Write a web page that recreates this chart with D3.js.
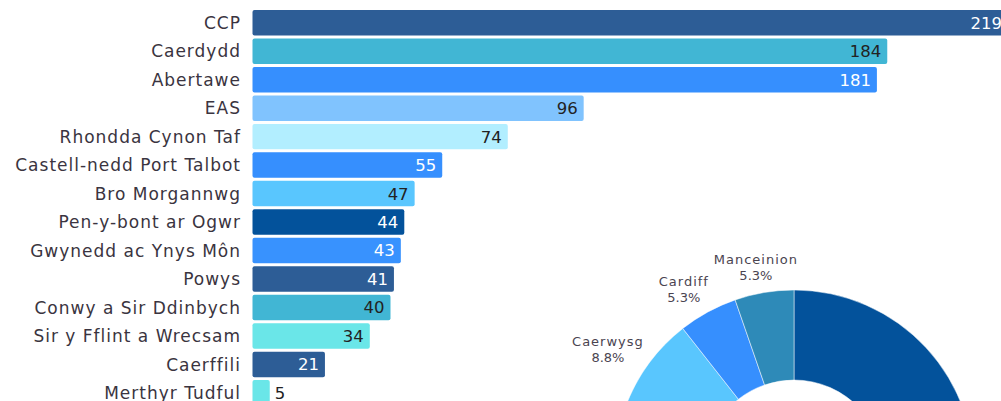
<!DOCTYPE html>
<html>
<head>
<meta charset="utf-8">
<script src="https://cdn.jsdelivr.net/npm/d3@7"></script>
<style>
  body { margin: 0; background: #fff; overflow: hidden; }
  svg { display: block; }
</style>
</head>
<body>
<div id="chart"></div>
<script>
// bar chart data
const categories = [
    'CCP', 'Caerdydd', 'Abertawe', 'EAS', 'Rhondda Cynon Taf',
    'Castell-nedd Port Talbot', 'Bro Morgannwg', 'Pen-y-bont ar Ogwr',
    'Gwynedd ac Ynys Môn', 'Powys', 'Conwy a Sir Ddinbych',
    'Sir y Fflint a Wrecsam', 'Caerffili', 'Merthyr Tudful'
];
const values = [219, 184, 181, 96, 74, 55, 47, 44, 43, 41, 40, 34, 21, 5];
const barColors = [
    '#2d5d96', '#41b6d4', '#368ffe', '#80c3fe', '#b2eeff',
    '#368ffe', '#59c6fe', '#03529b', '#3892fe', '#2d5d96',
    '#41b6d4', '#6ae6e8', '#2d5d96', '#6ae6e8'
];
// which bars have white value labels
const lightText = [true, false, true, false, false, true, false, true, true, true, false, false, true, false];

// donut data (only the top-left part is visible in the crop)
const donutNames = ['Y Drindod Dewi Sant', 'Bangor', 'Arall', 'Caerwysg', 'Cardiff', 'Manceinion'];
const donutPct = [52.6, 15.8, 12.2, 8.8, 5.3, 5.3];
const donutColors = ['#03529b', '#41b6d4', '#80c3fe', '#59c6fe', '#368ffe', '#2e8ab8'];

const width = 1001, height = 401;
const FONT = "'DejaVu Sans', sans-serif";

const svg = d3.select('#chart').append('svg')
    .attr('width', width)
    .attr('height', height);

// Scales
const x = d3.scaleLinear()
    .domain([0, 219])
    .range([252.5, 1008]);

const y = d3.scaleBand()
    .domain(categories)
    .range([10, 405.6])
    .paddingInner(0.105)
    .paddingOuter(0);

const rows = categories.map((c, i) => ({
    name: c, value: values[i], color: barColors[i], white: lightText[i]
}));

// Bars
svg.selectAll('.bar')
    .data(rows)
    .enter()
    .append('rect')
    .attr('class', 'bar')
    .attr('x', x(0))
    .attr('y', d => y(d.name))
    .attr('width', d => x(d.value) - x(0))
    .attr('height', y.bandwidth())
    .attr('rx', 2)
    .attr('fill', d => d.color);

// Category labels
svg.selectAll('.cat')
    .data(rows)
    .enter()
    .append('text')
    .attr('class', 'cat')
    .attr('x', 241)
    .attr('y', d => y(d.name) + y.bandwidth() / 2)
    .attr('dy', '0.36em')
    .attr('text-anchor', 'end')
    .style('font-family', FONT)
    .style('font-size', '17px')
    .style('letter-spacing', '1px')
    .style('fill', '#3a3440')
    .text(d => d.name);

// Value labels (inside the bar, or just after it when the bar is too short)
svg.selectAll('.val')
    .data(rows)
    .enter()
    .append('text')
    .attr('class', 'val')
    .attr('x', d => d.value < 10 ? x(d.value) + 5 : x(d.value) - 6)
    .attr('y', d => y(d.name) + y.bandwidth() / 2)
    .attr('dy', '0.36em')
    .attr('text-anchor', d => d.value < 10 ? 'start' : 'end')
    .style('font-family', FONT)
    .style('font-size', '16.5px')
    .style('fill', d => d.white ? '#fff' : '#222')
    .text(d => d.value);

// Donut
const cx = 794, cy = 470;
const outerR = 180, innerR = 90;

const pie = d3.pie().sort(null).value(d => d.pct);
const arc = d3.arc().innerRadius(innerR).outerRadius(outerR);

const slices = pie(donutNames.map((n, i) => ({ name: n, pct: donutPct[i], color: donutColors[i] })));

const donut = svg.append('g')
    .attr('transform', `translate(${cx},${cy})`);

donut.selectAll('path')
    .data(slices)
    .enter()
    .append('path')
    .attr('d', arc)
    .attr('fill', d => d.data.color)
    .attr('stroke', '#fff')
    .attr('stroke-width', 0.5);

const labels = donut.selectAll('.slice-label')
    .data(slices)
    .enter()
    .append('g')
    .attr('class', 'slice-label')
    .attr('transform', d => {
        const a = (d.startAngle + d.endAngle) / 2;
        return `translate(${Math.sin(a) * 230},${-Math.cos(a) * 206})`;
    });

labels.append('text')
    .attr('y', -3)
    .attr('text-anchor', 'middle')
    .style('font-family', FONT)
    .style('font-size', '13px')
    .style('letter-spacing', '1px')
    .style('fill', '#4a4450')
    .text(d => d.data.name);

labels.append('text')
    .attr('y', 13)
    .attr('text-anchor', 'middle')
    .style('font-family', FONT)
    .style('font-size', '13px')
    .style('fill', '#4a4450')
    .text(d => d.data.pct.toFixed(1) + '%');
</script>
</body>
</html>
